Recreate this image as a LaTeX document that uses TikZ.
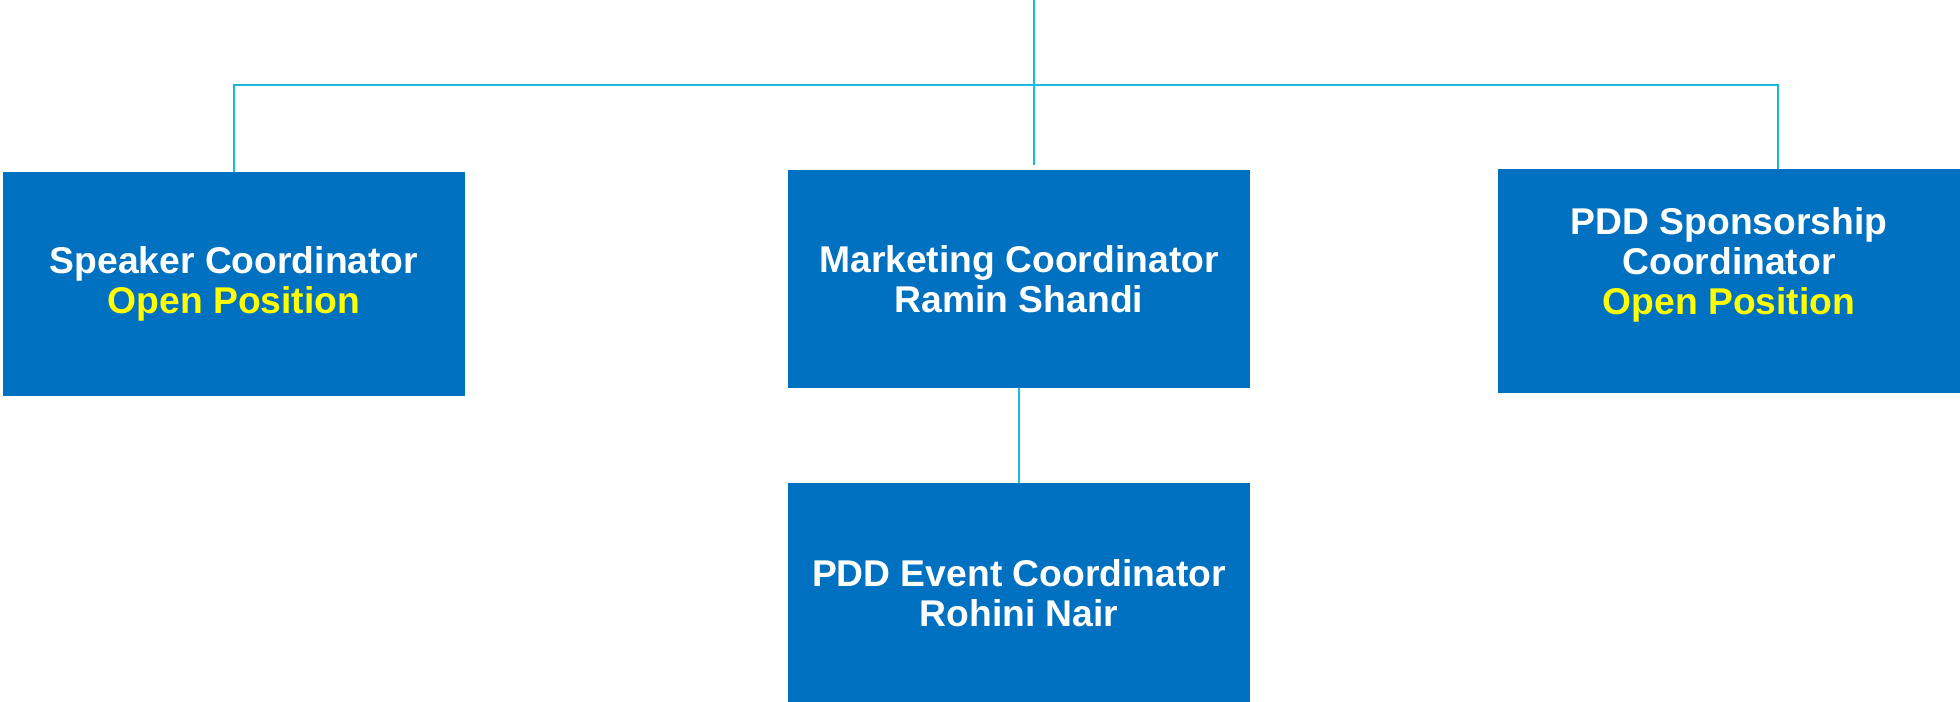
\documentclass[tikz,border=0pt]{standalone}
\usepackage{fontspec}
\setmainfont{Liberation Sans}
\usepackage{xcolor}
\usetikzlibrary{positioning}
\definecolor{boxblue}{HTML}{0070C0}
\definecolor{linkcyan}{HTML}{17BBDD}
\definecolor{openyellow}{HTML}{FFFF00}
\newcommand{\openpos}[1]{\textcolor{openyellow}{#1}}

\begin{document}
\begin{tikzpicture}[node distance=6.28cm, on grid,
        role/.style={rectangle, fill=boxblue, text=white, align=center,
            font=\fontsize{21.2}{22.8}\selectfont\bfseries,
            minimum width=9.24cm, minimum height=4.4cm, inner sep=0pt},
        link/.style={draw=linkcyan, line width=1.2pt}]
        \useasboundingbox (0,0) rectangle (39.2,-14.04);
        \node[role, minimum height=4.48cm](spk) at (4.68,-5.68){Speaker Coordinator\\\openpos{Open Position}};
        \node[role, minimum height=4.36cm](mkt) at (20.38,-5.58){Marketing Coordinator\\Ramin Shandi};
        \node[role, minimum height=4.48cm](spn) at (34.58,-5.62){PDD Sponsorship\\Coordinator\\\openpos{Open Position}\\\mbox{}};
        \node[role, minimum height=4.38cm](evt)[below=of mkt]{PDD Event Coordinator\\Rohini Nair};
        \coordinate (top) at (20.68,0);
        \coordinate (hub) at (20.68,-1.70);
        \coordinate (stub) at (20.68,-3.30);
        \draw[link] (top) -- (stub);
        \draw[link] (spk.north) |- (hub) -| ([xshift=0.98cm]spn.north);
        \draw[link] (mkt.south) -- (evt.north);
    \end{tikzpicture}
\end{document}
